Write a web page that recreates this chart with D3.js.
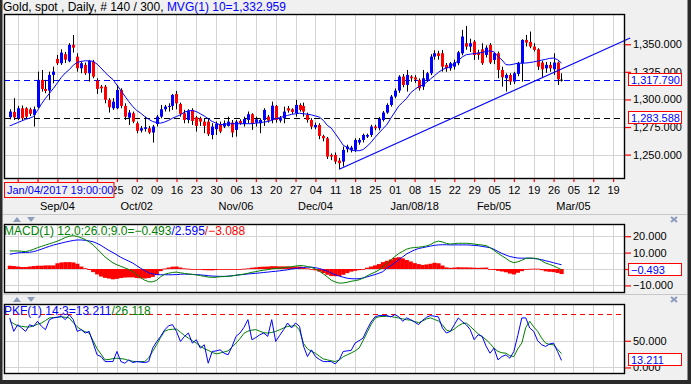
<!DOCTYPE html>
<html><head><meta charset="utf-8">
<script src="https://cdn.jsdelivr.net/npm/d3@7"></script>
<style>html,body{margin:0;padding:0;background:#f0f0f0;overflow:hidden}svg{display:block}</style>
</head><body><svg id="c" width="691" height="384"></svg>
<script>
// ---------------- DATA ----------------
const openV = [1283.9,1288.7,1282.9,1292.0,1292.0,1291.1,1286.0,1292.9,1317.7,1309.5,1308.0,1322.2,1336.7,1332.8,1341.0,1334.6,1349.4,1338.8,1328.2,1331.3,
1323.7,1334.3,1317.1,1311.6,1311.6,1299.6,1292.0,1292.0,1308.6,1294.1,1283.5,1287.5,1278.4,1271.8,1273.3,1273.9,1270.0,1277.8,1284.4,1291.1,
1293.5,1294.1,1305.0,1295.9,1287.5,1281.4,1290.5,1283.8,1282.9,1279.9,1279.9,1267.8,1273.0,1277.8,1275.4,1276.0,1279.0,1272.4,1280.5,1277.8,
1281.4,1286.6,1279.0,1278.4,1281.4,1284.4,1281.4,1294.1,1280.8,1282.9,1292.0,1291.1,1287.5,1295.0,1294.1,1286.0,1281.4,1274.8,1276.9,1266.9,
1264.8,1249.7,1249.7,1244.6,1243.7,1254.9,1254.3,1254.3,1261.0,1263.3,1266.3,1267.8,1275.4,1273.9,1281.4,1288.1,1295.0,1302.6,1308.0,1320.7,
1313.1,1320.7,1320.0,1317.7,1311.6,1317.7,1323.7,1338.8,1341.8,1341.8,1331.3,1328.2,1329.7,1332.8,1341.8,1350.9,1347.9,1352.4,1342.4,1345.4,
1340.3,1349.4,1335.8,1341.8,1326.7,1319.2,1322.2,1316.2,1323.1,1332.8,1353.9,1352.1,1347.9,1345.4,1333.4,1328.2,1331.3,1327.3,1333.4,1317.9];
const highV = [1291.1,1301.1,1294.1,1294.5,1293.0,1292.5,1293.5,1325.2,1326.7,1317.7,1325.2,1329.7,1340.3,1345.4,1343.0,1350.9,1358.4,1341.8,1334.3,1333.4,
1335.8,1335.8,1319.2,1313.1,1313.1,1301.1,1301.1,1313.1,1310.1,1296.5,1290.5,1289.0,1279.9,1276.0,1284.4,1276.0,1276.9,1286.0,1295.0,1295.0,
1296.5,1305.0,1307.7,1297.1,1290.5,1291.1,1292.0,1285.1,1284.4,1282.9,1282.9,1278.4,1279.9,1279.9,1281.0,1284.4,1281.4,1281.4,1282.0,1284.4,
1289.0,1287.5,1284.4,1282.9,1292.0,1286.0,1298.0,1295.0,1285.0,1293.5,1294.0,1292.0,1299.6,1296.5,1297.1,1288.0,1283.0,1279.0,1278.4,1268.0,
1266.0,1251.0,1251.9,1247.0,1257.3,1259.0,1258.0,1264.8,1265.0,1269.0,1269.0,1277.0,1277.0,1284.0,1289.5,1296.5,1304.0,1310.0,1322.0,1323.0,
1326.7,1322.0,1322.0,1319.0,1326.7,1325.0,1341.0,1344.5,1344.0,1344.8,1333.0,1334.0,1336.0,1344.0,1363.0,1366.6,1355.0,1353.9,1345.0,1350.9,
1349.0,1351.0,1343.0,1343.4,1329.7,1323.7,1323.7,1325.0,1334.0,1354.5,1358.4,1361.5,1350.9,1346.4,1335.0,1334.0,1334.0,1341.8,1334.3,1323.7];
const lowV = [1282.0,1281.4,1281.4,1281.0,1283.0,1285.0,1275.4,1292.0,1307.1,1305.6,1299.6,1314.6,1331.3,1331.3,1333.0,1333.7,1342.4,1325.2,1323.7,1322.2,
1316.2,1319.2,1305.0,1306.2,1296.5,1288.1,1290.5,1291.1,1292.0,1281.4,1276.9,1278.4,1269.4,1270.0,1270.9,1268.8,1260.9,1275.4,1282.9,1289.0,
1289.0,1290.5,1291.1,1284.4,1278.4,1278.4,1276.9,1270.9,1276.0,1269.4,1266.9,1263.9,1267.8,1269.4,1274.0,1275.4,1265.7,1266.3,1277.0,1275.4,
1278.4,1272.4,1275.4,1269.4,1276.0,1279.0,1278.4,1279.0,1279.0,1278.4,1288.0,1287.0,1284.4,1289.0,1284.4,1279.0,1273.0,1273.0,1264.0,1262.0,
1246.0,1245.0,1241.6,1236.8,1239.2,1252.0,1252.0,1252.5,1259.0,1261.0,1265.0,1266.0,1272.0,1272.0,1280.0,1287.0,1293.5,1301.0,1306.0,1311.0,
1307.1,1316.0,1315.0,1308.0,1308.6,1316.0,1322.0,1336.0,1336.0,1325.2,1325.0,1326.0,1327.0,1331.0,1340.0,1345.0,1343.0,1335.8,1336.0,1331.3,
1338.0,1332.0,1332.0,1319.2,1311.6,1307.1,1313.1,1314.0,1321.0,1316.2,1348.0,1346.4,1343.4,1326.7,1320.0,1324.0,1325.0,1322.2,1313.1,1316.2];
const closeV = [1289.0,1283.8,1292.0,1282.9,1284.4,1286.9,1291.1,1317.7,1309.5,1307.7,1322.2,1325.2,1332.8,1342.4,1336.0,1349.4,1346.9,1328.2,1332.8,1323.7,
1334.9,1320.7,1309.5,1310.1,1299.6,1292.9,1298.0,1308.6,1294.1,1284.4,1288.1,1279.9,1271.5,1273.9,1274.8,1270.0,1275.4,1284.4,1291.1,1293.5,
1294.1,1304.1,1296.5,1286.9,1281.4,1289.9,1280.5,1276.0,1279.9,1276.0,1268.5,1275.4,1277.8,1270.9,1278.4,1279.9,1270.0,1279.9,1278.4,1282.3,
1286.6,1277.8,1282.0,1281.4,1290.5,1280.8,1294.4,1281.4,1283.0,1289.0,1289.9,1288.7,1295.0,1290.5,1289.0,1281.4,1275.4,1276.9,1266.9,1264.8,
1248.2,1248.2,1243.7,1242.2,1254.3,1257.3,1256.4,1263.3,1263.3,1267.8,1267.8,1275.4,1273.9,1282.6,1288.1,1295.0,1302.6,1308.0,1320.7,1313.1,
1322.2,1319.2,1318.0,1310.1,1319.2,1323.7,1338.8,1341.8,1339.4,1329.7,1328.2,1332.8,1333.4,1342.7,1357.0,1347.9,1350.9,1340.3,1340.3,1332.8,
1346.9,1333.4,1341.8,1326.7,1320.1,1322.2,1316.2,1323.7,1332.8,1353.9,1351.5,1347.9,1344.9,1329.7,1327.3,1331.3,1328.2,1333.4,1318.3,1317.79];
const ma10 = [1276,1277.5,1279,1280.5,1282,1283,1284.5,1290,1296,1301,1305.5,1310,1315,1320,1324,1327,1331,1333.5,1334.5,1335,
1335,1334.5,1332,1328.5,1324.5,1321,1318,1313,1308,1303,1298,1293.5,1290,1287.5,1284.5,1282,1280,1279,1278.5,1279.5,
1281,1283,1284.5,1286,1288.5,1289.5,1290,1289,1287,1285,1282.5,1280,1278.5,1277,1277.5,1278,1278,1278,1278,1278,
1278,1278,1278.5,1279,1279.5,1280,1281,1282.5,1283.5,1284.5,1285.5,1286.5,1287,1287.5,1287,1286.6,1286,1285,1284,1281,
1276.5,1274,1269,1264,1258.5,1256.5,1254,1253.5,1253.5,1254.5,1257.5,1261,1265.5,1269.5,1273.5,1277,1283,1288.5,1294,1297.5,
1301,1306,1309,1311.5,1313,1315.5,1318.5,1321.5,1324.5,1327,1328.5,1329.7,1332.5,1335,1338.5,1340.5,1341,1341.5,1342,1342.5,
1343.5,1344,1343,1339,1335.8,1331.5,1331.3,1332,1332.8,1332.8,1333,1333.4,1334,1334.8,1335.6,1336.3,1337.2,1337.5,1336,1332.959];
const macdLine = [11.0,11.0,11.0,10.8,10.6,11.2,12.0,13.0,13.8,14.6,15.4,16.1,17.0,18.0,19.2,20.0,20.3,19.9,19.0,18.0,
16.5,14.7,12.3,9.8,7.4,5.5,3.7,2.6,1.6,0.7,-0.3,-1.5,-3.5,-5.3,-6.8,-7.8,-7.8,-6.9,-4.8,-3.2,
-2.6,-2.1,-1.9,-2.3,-2.7,-3.0,-3.3,-3.6,-4.0,-4.5,-4.9,-5.1,-5.0,-4.7,-4.6,-4.4,-4.2,-3.8,-3.5,-3.1,
-2.6,-2.0,-1.6,-1.1,-0.7,-0.4,0.1,0.3,0.5,0.8,1.1,1.4,1.8,2.1,2.0,1.5,1.0,0.0,-1.3,-3.0,
-4.8,-6.8,-7.9,-8.6,-8.5,-8.1,-7.5,-7.1,-6.6,-5.6,-4.2,-3.0,-1.9,-0.7,1.2,3.4,5.5,7.6,9.4,10.8,
12.1,12.8,13.1,13.3,13.6,14.1,14.9,16.3,17.0,16.5,15.6,15.2,15.5,15.7,15.7,15.7,15.5,15.2,14.9,14.6,
14.3,13.0,11.4,9.6,8.0,6.5,4.8,3.8,4.4,5.3,6.5,6.7,6.6,6.3,5.0,3.6,2.8,1.9,0.8,-0.493];
const macdSignal = [9.0,9.4,9.8,10.0,10.1,10.2,10.6,11.3,12.1,13.0,13.8,14.6,15.2,15.8,16.4,16.9,17.4,17.7,17.7,17.5,
17.1,16.6,15.6,14.4,12.8,11.3,10.0,8.6,7.1,5.9,4.8,3.6,2.0,0.4,-1.0,-2.3,-3.0,-3.4,-3.5,-3.5,
-3.5,-3.5,-3.4,-3.2,-3.1,-3.2,-3.3,-3.4,-3.6,-3.8,-4.1,-4.3,-4.4,-4.5,-4.5,-4.4,-4.1,-3.8,-3.5,-3.3,
-3.0,-2.8,-2.6,-2.4,-2.1,-1.9,-1.6,-1.4,-1.1,-0.8,-0.5,0.0,0.3,0.6,1.0,1.1,1.1,0.8,0.3,-0.5,
-1.3,-2.5,-3.5,-4.3,-5.0,-5.6,-5.9,-6.0,-5.9,-5.5,-4.8,-4.1,-3.4,-2.6,-1.6,0.5,2.0,3.8,5.6,7.4,
9.2,10.5,11.6,12.5,13.0,13.5,14.0,14.4,14.7,14.8,14.8,14.7,14.7,14.7,14.7,14.7,14.6,14.4,14.2,13.8,
13.4,13.0,12.0,10.7,9.5,8.5,7.6,7.1,6.7,6.6,6.6,6.6,6.4,6.1,5.7,5.0,4.5,3.8,3.2,2.595];
const macdHist = [2.0,1.8,1.5,1.2,1.2,1.5,1.8,2.0,2.0,2.2,2.2,2.2,3.5,4.0,4.2,4.2,4.0,3.2,1.5,0.5,
-0.6,-1.9,-3.3,-4.6,-5.4,-5.8,-6.3,-6.0,-5.5,-5.2,-5.1,-5.1,-5.5,-5.7,-5.8,-5.5,-4.8,-3.5,-1.3,0.3,
0.9,1.4,1.5,0.9,0.4,0.2,0.0,-0.2,-0.4,-0.7,-0.8,-0.8,-0.6,-0.2,-0.1,0.0,-0.1,0.0,0.0,0.2,
0.4,0.8,1.0,1.3,1.4,1.5,1.7,1.7,1.6,1.6,1.6,1.4,1.5,1.5,1.0,0.4,-0.1,-0.8,-1.6,-2.5,
-3.5,-4.3,-4.4,-4.3,-3.5,-2.5,-1.6,-1.1,-0.7,-0.1,0.8,1.5,2.2,3.0,4.2,5.0,5.8,6.8,7.2,6.5,
5.5,4.6,3.6,3.0,2.5,2.8,3.2,3.8,3.5,2.1,1.0,0.7,0.9,1.1,1.0,1.0,0.9,0.8,0.7,0.8,
0.9,0.0,-0.6,-1.1,-1.5,-2.0,-2.8,-3.3,-2.3,-1.3,-0.1,0.1,0.2,0.2,-0.7,-1.4,-1.7,-1.9,-2.4,-3.088];
const stochK = [92.8,67.6,80,74,67.6,80,77,86.5,77,70.8,89.6,92.8,94,96,89.6,99,89.6,67.6,70.8,64.5,
67.6,45.6,23.6,20.4,11,11,11,29.9,11,7.9,14.2,9.1,11,10,9.1,11,36.2,48,58.2,70,
78,80.2,67.6,48.7,58,64.5,45.6,51.9,36.2,42.5,7.9,29.9,31,33,26.7,23.6,39.3,58.2,64.5,75,
89.6,51.9,56,61.3,64.5,58.2,89.6,48.7,60,70.8,83.3,74,83.3,77,40,20.4,33,20.4,15,11,
11,11,6.6,14.2,29.9,31,31.8,45.6,50,55,70.8,85,94.7,97.2,97.2,97.2,94.7,99,95,86.5,
92.8,89.6,85,80.2,88.4,94,97.2,96,94.7,73.9,64.5,67.6,80,92.8,86,80.2,70.8,51.9,61.3,58.2,
40,26.7,36.2,14.2,20.4,23.6,17.3,29.9,60,92.8,92.8,73.9,67.6,50,42.5,39.3,44,45.6,29.9,13.211];
const stochD = [86.5,82,78,77,76,75.8,78,81,83.3,88,92.8,93.5,94.2,94.7,94,92.8,84,76,70.8,67,
64.5,50,35,25,14.2,15,16.5,17.3,16.5,15.4,13,11.5,11,11,11,18,30,42.5,56,68,
70.8,71.5,72,66,60,55,50,45.6,40,35,32,28,25.5,27,29,31,38,45.6,54,64,
68,70,70.8,68,65,64.5,65.5,67.6,70.5,74,77,77.5,78.3,70,45,35,30,26.7,21,16,
14.2,12.5,11,14,20,23.6,27,31,36.2,50,65,80,92,95,95.5,95.9,95.5,94,92.8,91,
89.5,88.4,86,84,87,91,92.8,90,87,80,70,67.6,72,78,82,83.3,77,70,63,58,
52,45,36,30,27.5,26.7,22,20.4,35,45.6,75,86.5,76,67.6,55,45.6,43,42.5,34,26.118];

const firstBarDate = new Date(2017, 7, 17);   // Aug 17, 2017
const dayTickLabels = ["21","28","04","11","18","25","02","09","16","23","30","06","13","20","27","04","11","18","25","01","08","15","22","29","05","12","19","26","05","12","19"];
const monthLabels = [["2017-09-04","Sep/04"],["2017-10-02","Oct/02"],["2017-11-06","Nov/06"],["2017-12-04","Dec/04"],["2018-01-08","Jan/08/18"],["2018-02-05","Feb/05"],["2018-03-05","Mar/05"]];
const priceTicks = [1350,1325,1300,1275,1250];
const macdTicks = [20,10,0,-10];
const stochTicks = [50,0];
const hLines = {blue:1317.790, black:1283.588};
const trendPts = [[83,1236.8],[156.3,1355.6]];
const cursorLabel = "Jan/04/2017 19:00:00";

// ---------------- helpers ----------------
const isWeekday = d => d.getDay() !== 0 && d.getDay() !== 6;
function tradeIndex(d){ return d3.timeDay.range(firstBarDate, d).filter(isWeekday).length; }
const N = closeV.length;
const bars = d3.range(N).map(i => ({i, o:openV[i], h:highV[i], l:lowV[i], c:closeV[i]}));

const svg = d3.select("#c");
const W = 691, H = 384;
const X0 = 4, X1 = 625;
const FONT = "'Liberation Sans', Arial, sans-serif";
const x = d3.scaleLinear().domain([-1.45, 155.0]).range([X0, X1]);
const P = {top:14, bot:179}, M = {top:224, bot:293}, S = {top:304, bot:374};
const yP = d3.scaleLinear().domain([1227.9, 1377.4]).range([P.bot, P.top]);
const yM = d3.scaleLinear().domain([-14.63, 27.44]).range([M.bot, M.top]);
const yS = d3.scaleLinear().domain([-12.3, 118.9]).range([S.bot, S.top]);

const tickDates = d3.timeMonday.range(new Date(2017,7,21), new Date(2018,2,20));
const tickIdx = tickDates.map(tradeIndex);
const BOX_RIGHT = 114;   // cursor-date box hides the first day labels

// background & frame
svg.append("rect").attr("width", W).attr("height", H).attr("fill", "#f0f0f0");
svg.append("rect").attr("x",0).attr("y",0).attr("width",2.5).attr("height",H).attr("fill","#2a2a2a");
svg.append("rect").attr("x",687.5).attr("y",0).attr("width",4).attr("height",H).attr("fill","#2a2a2a");
svg.append("rect").attr("x",0).attr("y",380).attr("width",W).attr("height",4).attr("fill","#2a2a2a");

const defs = svg.append("defs");
function panel(id, p){
  defs.append("clipPath").attr("id", id).append("rect")
    .attr("x", X0).attr("y", p.top).attr("width", X1 - X0).attr("height", p.bot - p.top);
  svg.append("rect").attr("x", X0).attr("y", p.top).attr("width", X1 - X0).attr("height", p.bot - p.top).attr("fill", "#fff");
  const g = svg.append("g").attr("clip-path", `url(#${id})`);
  g.selectAll("line.vg").data(tickIdx).join("line").attr("class","vg")
    .attr("x1", d => Math.round(x(d)) + 0.5).attr("x2", d => Math.round(x(d)) + 0.5)
    .attr("y1", p.top).attr("y2", p.bot).attr("stroke", "#d4d4d4").attr("stroke-width", 1);
  return g;
}
function border(p){
  svg.append("rect").attr("x", X0 + 0.5).attr("y", p.top + 0.5).attr("width", X1 - X0 - 1).attr("height", p.bot - p.top - 1)
    .attr("fill", "none").attr("stroke", "#000").attr("stroke-width", 1.4);
}
function hgrid(g, vals, y){
  g.selectAll("line.hg").data(vals).join("line").attr("class","hg")
    .attr("x1", X0).attr("x2", X1).attr("y1", d => Math.round(y(d)) + 0.5).attr("y2", d => Math.round(y(d)) + 0.5)
    .attr("stroke", "#d4d4d4");
}
function rightAxis(y, vals, fmt){
  const ax = d3.axisRight(y).tickValues(vals).tickFormat(fmt).tickSize(6).tickPadding(2);
  const g = svg.append("g").attr("transform", `translate(${X1},0)`).call(ax);
  g.select(".domain").remove();
  g.selectAll(".tick line").attr("stroke", "#ff0000").attr("stroke-width", 1.2);
  g.selectAll(".tick text").attr("fill", "#000").attr("font-family", FONT).attr("font-size", "11px");
  return g;
}
function valueBox(yy, txt){
  svg.append("rect").attr("x", 628.5).attr("y", Math.round(yy) - 6.5).attr("width", 53).attr("height", 12)
    .attr("fill", "#fff").attr("stroke", "#ff0000").attr("stroke-width", 1);
  svg.append("text").attr("x", 631).attr("y", Math.round(yy) + 4).attr("fill", "#0000ff")
    .attr("font-family", FONT).attr("font-size", "11px").text(txt);
}
function panelControls(yTop){
  svg.append("line").attr("x1", 3).attr("x2", 687).attr("y1", yTop - 0.5).attr("y2", yTop - 0.5).attr("stroke", "#c8c8c8");
  const c = "#8d9bbd";
  svg.append("polygon").attr("points", `13,${yTop+7} 17,${yTop+2} 21,${yTop+7}`).attr("fill", c);
  svg.append("polygon").attr("points", `27,${yTop+2} 35,${yTop+2} 31,${yTop+7}`).attr("fill", c);
  const xg = svg.append("g").attr("stroke", c).attr("stroke-width", 2);
  xg.append("line").attr("x1", 671).attr("y1", yTop+2).attr("x2", 677).attr("y2", yTop+7);
  xg.append("line").attr("x1", 677).attr("y1", yTop+2).attr("x2", 671).attr("y2", yTop+7);
}

// ---------------- header ----------------
const ht = svg.append("text").attr("x", 3).attr("y", 11).attr("font-family", FONT).attr("font-size", "12px");
ht.append("tspan").attr("fill", "#000").text("Gold, spot , Daily, # 140 / 300, ");
ht.append("tspan").attr("fill", "#0000ff").text("MVG(1) 10=1,332.959");

// ---------------- main price panel ----------------
const gP = panel("clipP", P);
hgrid(gP, priceTicks, yP);
gP.append("line").attr("x1", X0).attr("x2", X1).attr("y1", Math.round(yP(hLines.black)) + 0.5).attr("y2", Math.round(yP(hLines.black)) + 0.5)
  .attr("stroke", "#000").attr("stroke-dasharray", "6,4");
gP.append("line").attr("x1", X0).attr("x2", X1).attr("y1", Math.round(yP(hLines.blue)) + 0.5).attr("y2", Math.round(yP(hLines.blue)) + 0.5)
  .attr("stroke", "#0000ff").attr("stroke-dasharray", "6,4");
// candles
const cg = gP.append("g");
cg.selectAll("line.wick").data(bars).join("line").attr("class","wick")
  .attr("x1", d => Math.round(x(d.i)) + 0.5).attr("x2", d => Math.round(x(d.i)) + 0.5)
  .attr("y1", d => yP(d.h)).attr("y2", d => yP(d.l)).attr("stroke", "#000").attr("stroke-width", 1);
cg.selectAll("rect.body").data(bars).join("rect").attr("class","body")
  .attr("x", d => Math.round(x(d.i)) - 1).attr("width", 3)
  .attr("y", d => yP(Math.max(d.o, d.c))).attr("height", d => Math.max(1, Math.abs(yP(d.o) - yP(d.c))))
  .attr("fill", d => Math.abs(d.c - d.o) < 0.3 ? "#000" : (d.c > d.o ? "#0000ff" : "#ff0000"));
// moving average
gP.append("path").datum(ma10).attr("fill", "none").attr("stroke", "#0000ff").attr("stroke-width", 1)
  .attr("d", d3.line().x((d, i) => x(i)).y(d => yP(d)));
svg.append("path").datum(trendPts).attr("fill", "none").attr("stroke", "#0000ff").attr("stroke-width", 1.1)
  .attr("d", d3.line().x(d => x(d[0])).y(d => yP(d[1])));
border(P);
rightAxis(yP, priceTicks, d3.format(",.3f"));
valueBox(yP(hLines.blue), d3.format(",.3f")(hLines.blue));
valueBox(yP(hLines.black), d3.format(",.3f")(hLines.black));

// x axis
const xa = d3.axisBottom(x).tickValues(tickIdx)
  .tickFormat((d, i) => x(d) < BOX_RIGHT - 8 ? "" : dayTickLabels[i]).tickSize(3).tickPadding(4);
const xg = svg.append("g").attr("transform", `translate(0,${P.bot})`).call(xa);
xg.select(".domain").remove();
xg.selectAll(".tick line").attr("stroke", "#ff0000").attr("stroke-width", 1.2);
xg.selectAll(".tick text").attr("fill", "#000").attr("font-family", FONT).attr("font-size", "11px");
svg.append("g").selectAll("text").data(monthLabels).join("text")
  .attr("x", d => x(tradeIndex(d3.timeParse("%Y-%m-%d")(d[0]))))
  .attr("y", 209.5).attr("text-anchor", "middle").attr("font-family", FONT).attr("font-size", "11px").attr("fill", "#000")
  .text(d => d[1]);
svg.append("rect").attr("x", 4.5).attr("y", 182.5).attr("width", BOX_RIGHT - 4.5).attr("height", 15)
  .attr("fill", "#f0f0f0").attr("stroke", "#ff0000").attr("stroke-width", 1);
svg.append("text").attr("x", 7).attr("y", 194.3).attr("fill", "#0000ff").attr("font-family", FONT).attr("font-size", "11px").text(cursorLabel);

// ---------------- MACD panel ----------------
panelControls(215);
const gM = panel("clipM", M);
hgrid(gM, macdTicks, yM);
gM.selectAll("rect.hist").data(macdHist).join("rect").attr("class","hist")
  .attr("x", (d, i) => x(i - 0.5)).attr("width", x(1) - x(0) + 0.2)
  .attr("y", d => yM(Math.max(0, d))).attr("height", d => Math.max(0.8, Math.abs(yM(d) - yM(0))))
  .attr("fill", "#ff0000");
gM.append("path").datum(macdSignal).attr("fill", "none").attr("stroke", "#0000ff").attr("stroke-width", 1)
  .attr("d", d3.line().x((d, i) => x(i)).y(d => yM(d)));
gM.append("path").datum(macdLine).attr("fill", "none").attr("stroke", "#008000").attr("stroke-width", 1)
  .attr("d", d3.line().x((d, i) => x(i)).y(d => yM(d)));
const mt = svg.append("text").attr("x", 4).attr("y", 235).attr("font-family", FONT).attr("font-size", "12px");
mt.append("tspan").attr("fill", "#008000").text("MACD(1) 12.0;26.0;9.0=" + d3.format(".3f")(macdLine[N-1]));
mt.append("tspan").attr("fill", "#0000ff").text("/" + d3.format(".3f")(macdSignal[N-1]));
mt.append("tspan").attr("fill", "#ff0000").text("/" + d3.format(".3f")(macdHist[N-1]));
border(M);
// the 0 label sits fully under the value box in the reference, so only its tick is drawn
rightAxis(yM, macdTicks, d => d === 0 ? "" : d3.format(".3f")(d));
valueBox(yM(macdLine[N-1]), d3.format(".3f")(macdLine[N-1]));

// ---------------- Stochastic panel ----------------
panelControls(295);
const gS = panel("clipS", S);
hgrid(gS, stochTicks, yS);
gS.append("line").attr("x1", X0).attr("x2", X1).attr("y1", Math.round(yS(100)) + 0.5).attr("y2", Math.round(yS(100)) + 0.5)
  .attr("stroke", "#ff0000").attr("stroke-dasharray", "5,4");
gS.append("path").datum(stochD).attr("fill", "none").attr("stroke", "#008000").attr("stroke-width", 1)
  .attr("d", d3.line().x((d, i) => x(i)).y(d => yS(d)));
gS.append("path").datum(stochK).attr("fill", "none").attr("stroke", "#0000ff").attr("stroke-width", 1)
  .attr("d", d3.line().x((d, i) => x(i)).y(d => yS(d)));
const st = svg.append("text").attr("x", 4).attr("y", 315).attr("font-family", FONT).attr("font-size", "12px");
st.append("tspan").attr("fill", "#0000ff").text("PKF(1) 14;3=" + d3.format(".3f")(stochK[N-1]));
st.append("tspan").attr("fill", "#008000").text("/" + d3.format(".3f")(stochD[N-1]));
border(S);
rightAxis(yS, stochTicks, d3.format(".3f"));
valueBox(yS(stochK[N-1]), d3.format(".3f")(stochK[N-1]));
</script>
</body></html>
